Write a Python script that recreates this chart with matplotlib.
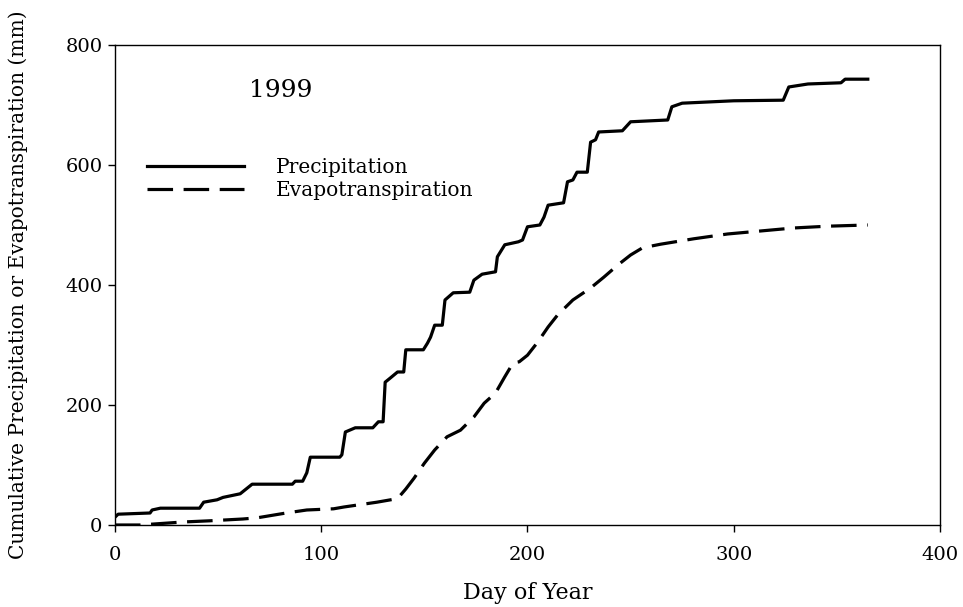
import numpy as np
import matplotlib
matplotlib.use("Agg")
import matplotlib.pyplot as plt

# cumulative precipitation (mm)
precip_day = [0, 1.5, 17, 18, 22, 41, 43, 49.5, 52.4, 60.7, 66.5, 86, 87.4, 91, 93, 94.7,
              109, 110, 111.7, 116.5, 125, 127.7, 130, 131, 133.5, 137, 140, 141, 149.5,
              151.5, 153, 155, 158.7, 160, 164, 172, 174, 178, 184.5, 185.4, 189, 195.6,
              197.6, 200, 206, 208, 210, 217.5, 219.4, 222, 224, 229, 230.6, 233, 234.5,
              246, 247.6, 250, 268, 270, 275, 300, 324, 326.7, 336, 352, 354, 365]
precip_mm = [13, 18, 20, 25, 28, 28, 38, 42, 46, 52, 68, 68, 73, 73, 87, 113,
             113, 117, 155, 162, 162, 172, 172, 238, 245, 255, 255, 292, 292,
             303, 313, 333, 333, 375, 387, 388, 408, 418, 422, 447, 467, 472,
             475, 497, 500, 513, 533, 537, 572, 575, 588, 588, 638, 642, 655,
             657, 663, 672, 675, 697, 703, 707, 708, 730, 735, 737, 743, 743]

# cumulative evapotranspiration (mm)
et_day = [0, 12, 33, 46, 62, 69, 83, 93, 106, 111, 117, 127, 137, 139, 141, 145,
          150, 155, 161, 167.5, 174, 179, 184.5, 189, 193, 196, 200, 205, 210,
          214.6, 222, 230.6, 237, 243.7, 250, 255.8, 264.6, 280.6, 297, 313, 329,
          345.6, 365]
et_mm = [0, 0, 5, 7, 10, 12, 20, 25, 27, 30, 33, 38, 44, 52, 60, 78,
         103, 125, 147, 158, 180, 203, 220, 247, 270, 272, 283, 305, 330,
         350, 375, 395, 413, 433, 450, 462, 468, 477, 485, 490, 495,
         498, 500]

plt.rcParams['font.family'] = ['DejaVu Serif']

fig = plt.figure(figsize=(9.63, 6.07), dpi=100)
ax = fig.add_axes([0.1194, 0.1351, 0.8567, 0.7908])

ax.plot(precip_day, precip_mm, color='black', lw=2.3, label='Precipitation')
ax.plot(et_day, et_mm, color='black', lw=2.3, dashes=(8, 3.3), label='Evapotranspiration')

ax.set_xlim(0, 400)
ax.set_ylim(0, 800)
ax.set_xticks([0, 100, 200, 300, 400])
ax.set_yticks([0, 200, 400, 600, 800])
ax.tick_params(direction='out', length=5, width=1, labelsize=14)
ax.tick_params(axis='x', pad=10)
ax.tick_params(axis='y', pad=4)
for s in ax.spines.values():
    s.set_linewidth(1)

ax.set_xlabel("Day of Year", fontsize=16)
ax.xaxis.set_label_coords(0.5, -0.142)
ax.xaxis.label.set_va('center')
ax.set_ylabel("Cumulative Precipitation or Evapotranspiration (mm)", fontsize=14.5)
ax.yaxis.set_label_coords(-0.1176, 0.5)
ax.yaxis.label.set_va('center')

ax.text(0.162, 0.905, "1999", transform=ax.transAxes, fontsize=18, ha='left', va='center')

leg = ax.legend(loc='upper left', bbox_to_anchor=(0.017, 0.803), frameon=False, fontsize=14.5,
                handlelength=4.8, handletextpad=1.6, labelspacing=0.2)

fig.savefig("out.png", dpi=100)
